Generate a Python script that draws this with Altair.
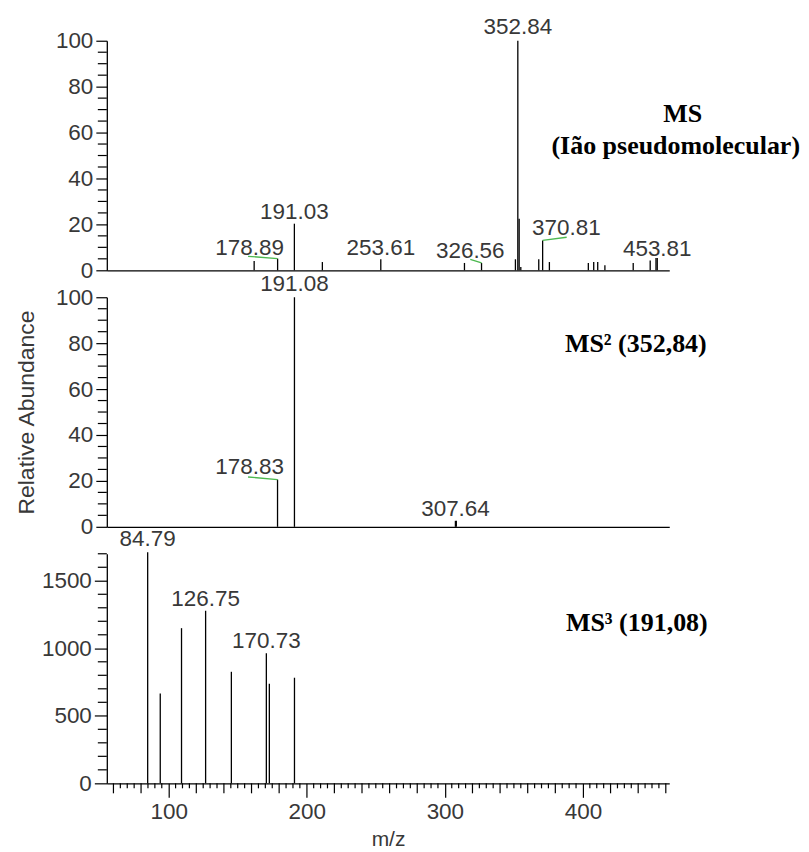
import altair as alt
import pandas as pd

# ---------------- data ----------------
# MS full scan (relative abundance, %)
ms1_mz = [161.9, 178.89, 191.03, 211.3, 253.61, 314.2, 326.56, 351.1, 352.84, 353.8, 355.0,
          368.0, 370.81, 375.7, 403.9, 407.8, 410.7, 415.9, 436.4, 448.7, 452.9, 453.81]
ms1_int = [4.0, 5.1, 20.3, 3.6, 4.8, 3.2, 3.2, 4.8, 100.0, 22.5, 1.4,
           4.8, 13.0, 3.6, 3.2, 3.6, 3.6, 2.2, 3.2, 4.3, 5.4, 5.4]
ms1_lab_text = ["178.89", "191.03", "253.61", "326.56", "352.84", "370.81", "453.81"]
ms1_lab_x = [158.6, 191.03, 253.61, 318.4, 352.84, 388.0, 453.81]
ms1_lab_y = [6.5, 22.5, 6.5, 5.2, 102.9, 15.2, 6.4]
ms1_lead_x1 = [157.5, 318.4, 370.81]
ms1_lead_y1 = [6.1, 4.8, 13.0]
ms1_lead_x2 = [178.89, 326.56, 388.2]
ms1_lead_y2 = [5.1, 3.2, 14.4]

# MS2 of 352.84
ms2_mz = [178.83, 191.08, 307.64, 308.3]
ms2_int = [20.6, 100.0, 2.6, 2.6]
ms2_lab_text = ["178.83", "191.08", "307.64"]
ms2_lab_x = [158.6, 191.08, 307.7]
ms2_lab_y = [22.9, 102.6, 4.8]
ms2_lead_x1 = [157.5]
ms2_lead_y1 = [21.7]
ms2_lead_x2 = [178.83]
ms2_lead_y2 = [20.6]

# MS3 of 191.08 (counts)
ms3_mz = [84.79, 93.9, 109.3, 126.75, 145.4, 170.73, 172.9, 191.1]
ms3_int = [1712, 665, 1149, 1278, 826, 963, 737, 782]
ms3_lab_text = ["84.79", "126.75", "170.73"]
ms3_lab_x = [84.79, 126.75, 170.73]
ms3_lab_y = [1757, 1315, 1005]

# axis ticks
x_major = [100, 200, 300, 400]
x_mid = [60, 80, 120, 140, 160, 180, 220, 240, 260, 280, 320, 340, 360, 380, 420, 440, 460]
x_minor = [v for v in range(60, 461, 5) if v % 20 != 0]
y_pct_major = [0, 20, 40, 60, 80, 100]
y_pct_minor = [v for v in range(0, 101, 5) if v % 20 != 0]
y_cnt_major = [0, 500, 1000, 1500]
y_cnt_minor = [v for v in range(0, 1701, 100) if v % 500 != 0]

# ---------------- style ----------------
FONT = "Liberation Sans"
SERIF = "Liberation Serif"
GREY = "#383838"
GREEN = "#4cb84f"
W, H = 563.5, 230
XS = alt.Scale(domain=[55.2, 462.5], nice=False, zero=False)
YS_PCT = alt.Scale(domain=[0, 100], nice=False, zero=True)
YS_CNT = alt.Scale(domain=[0, 1700], nice=False, zero=True)
ONE = alt.Data(values=[{}])

AX = dict(grid=False, tickColor="black", tickWidth=1.2, domainColor="black", domainWidth=1.3,
          labelFlush=False, labelFont=FONT, labelFontSize=22.5, labelColor=GREY, labelPadding=3,
          format="d")


def xticks_layer(values, length):
    df = pd.DataFrame({"v": values})
    return alt.Chart(df).mark_rule(color="black", strokeWidth=1.2).encode(
        x=alt.X("v:Q", scale=XS), y=alt.value(H), y2=alt.value(H + length))


def yticks_layer(values, ys, length):
    df = pd.DataFrame({"v": values})
    return alt.Chart(df).mark_rule(color="black", strokeWidth=1.2).encode(
        y=alt.Y("v:Q", scale=ys), x=alt.value(0), x2=alt.value(-length))


def peaks_layer(mz, inten, ys, xaxis, yaxis):
    df = pd.DataFrame({"mz": mz, "inten": inten})
    return alt.Chart(df).mark_rule(color="black", strokeWidth=1.3).encode(
        x=alt.X("mz:Q", scale=XS, axis=xaxis),
        y=alt.Y("inten:Q", scale=ys, axis=yaxis),
        y2=alt.datum(0),
    )


def labels_layer(text, lx, ly, ys):
    df = pd.DataFrame({"t": text, "lx": lx, "ly": ly})
    return alt.Chart(df).mark_text(font=FONT, fontSize=22.5, color=GREY,
                                   baseline="alphabetic", align="center").encode(
        x=alt.X("lx:Q", scale=XS),
        y=alt.Y("ly:Q", scale=ys),
        text="t:N",
    )


def leaders_layer(x1, y1, x2, y2, ys):
    df = pd.DataFrame({"x1": x1, "y1": y1, "x2": x2, "y2": y2})
    return alt.Chart(df).mark_rule(color=GREEN, strokeWidth=1.3).encode(
        x=alt.X("x1:Q", scale=XS), x2="x2:Q",
        y=alt.Y("y1:Q", scale=ys), y2="y2:Q",
    )


def note(text, px, py, align="center", size=26):
    return alt.Chart(ONE).mark_text(font=SERIF, fontSize=size, fontWeight="bold", color="black",
                                    align=align, baseline="alphabetic").encode(
        x=alt.value(px), y=alt.value(py), text=alt.value(text))


x_plain = alt.Axis(values=x_major, ticks=False, labels=False, domain=True, title=None, **AX)
y_pct_axis = alt.Axis(values=y_pct_major, tickSize=11, title=None, **AX)
y_pct_axis_t = alt.Axis(values=y_pct_major, tickSize=11, title="Relative Abundance",
                        titleFont=FONT, titleFontSize=23, titleFontWeight="normal",
                        titleColor=GREY, titlePadding=17, **AX)
x_ms3_axis = alt.Axis(values=x_major, tickSize=14, title="m/z", titleFont=FONT, titleFontSize=21,
                      titleFontWeight="normal", titleColor=GREY, titlePadding=6, **AX)
y_cnt_axis = alt.Axis(values=y_cnt_major, tickSize=12.5, title=None, **AX)

# ---------------- top panel: MS ----------------
top = alt.layer(
    peaks_layer(ms1_mz, ms1_int, YS_PCT, x_plain, y_pct_axis),
    yticks_layer(y_pct_minor, YS_PCT, 9),
    leaders_layer(ms1_lead_x1, ms1_lead_y1, ms1_lead_x2, ms1_lead_y2, YS_PCT),
    labels_layer(ms1_lab_text, ms1_lab_x, ms1_lab_y, YS_PCT),
    note("MS", 577, 81.7),
    note("(Ião pseudomolecular)", 570, 113.3),
).properties(width=W, height=H)

# ---------------- middle panel: MS2 ----------------
mid = alt.layer(
    peaks_layer(ms2_mz, ms2_int, YS_PCT, x_plain, y_pct_axis_t),
    yticks_layer(y_pct_minor, YS_PCT, 9),
    leaders_layer(ms2_lead_x1, ms2_lead_y1, ms2_lead_x2, ms2_lead_y2, YS_PCT),
    labels_layer(ms2_lab_text, ms2_lab_x, ms2_lab_y, YS_PCT),
    note("MS² (352,84)", 459, 55, align="left"),
).properties(width=W, height=H)

# ---------------- bottom panel: MS3 ----------------
bot = alt.layer(
    peaks_layer(ms3_mz, ms3_int, YS_CNT, x_ms3_axis, y_cnt_axis),
    xticks_layer(x_minor, 5),
    xticks_layer(x_mid, 10),
    yticks_layer(y_cnt_minor, YS_CNT, 9),
    labels_layer(ms3_lab_text, ms3_lab_x, ms3_lab_y, YS_CNT),
    note("MS³ (191,08)", 460, 77.7, align="left"),
).properties(width=W, height=H)

chart = alt.vconcat(top, mid, bot, spacing=27, bounds="flush").properties(
    padding={"left": 7, "top": 7, "right": 0, "bottom": 0}
).configure_view(strokeWidth=0).configure_axis(grid=False)

chart.save("out.html", embed_options={"renderer": "svg", "actions": False})
